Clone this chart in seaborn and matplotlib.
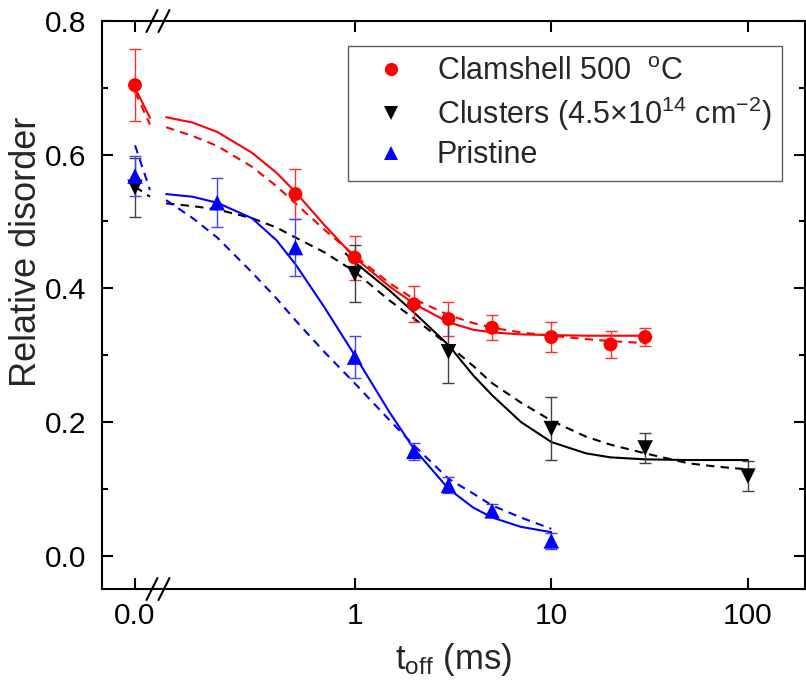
import matplotlib
matplotlib.use("Agg")
import matplotlib.pyplot as plt
from matplotlib.lines import Line2D
from matplotlib.ticker import MultipleLocator, FixedLocator, NullLocator, FormatStrFormatter
import seaborn as sns

# ---------------- measured points: relative disorder vs t_off (ms) ----------------
t_clam = [0, 0.5, 1, 2, 3, 5, 10, 20, 30]
d_clam = [0.704, 0.541, 0.446, 0.376, 0.354, 0.341, 0.327, 0.316, 0.327]
e_clam = [0.054, 0.037, 0.033, 0.027, 0.025, 0.019, 0.022, 0.020, 0.014]

t_clus = [0, 1, 3, 10, 30, 100]
d_clus = [0.551, 0.422, 0.305, 0.190, 0.161, 0.119]
e_clus = [0.044, 0.043, 0.047, 0.047, 0.022, 0.023]

t_pris = [0, 0.2, 0.5, 1, 2, 3, 5, 10]
d_pris = [0.568, 0.528, 0.461, 0.297, 0.156, 0.105, 0.067, 0.022]
e_pris = [0.030, 0.037, 0.042, 0.031, 0.013, 0.012, 0.010, 0.012]

# ---------------- fitted curves ----------------
# short stretch next to t = 0 (linear part of the axis)
t_fit_zero = [0, 0.045]
clam_solid_zero = [0.700, 0.655]
clam_dash_zero = [0.694, 0.645]
clus_dash_zero = [0.552, 0.537]
pris_dash_zero = [0.614, 0.547]

# logarithmic part of the axis
t_fit = [0.11, 0.15, 0.2, 0.3, 0.4, 0.5, 0.7, 1, 1.5, 2, 3, 4, 5, 7, 10,
         15, 20, 30, 50, 70, 100]
clam_solid = [0.656, 0.648, 0.634, 0.603, 0.573, 0.544, 0.495, 0.446, 0.403, 0.377,
              0.349, 0.338, 0.334, 0.331, 0.330, 0.329, 0.329, 0.329]
clam_dash = [0.641, 0.628, 0.613, 0.582, 0.553, 0.527, 0.488, 0.449, 0.408, 0.384,
             0.360, 0.348, 0.341, 0.334, 0.329, 0.324, 0.321, 0.318]
t_clus_solid = [0.9, 1, 1.5, 2, 3, 4, 5, 7, 10, 15, 20, 30, 50, 70, 100]
clus_solid = [0.452, 0.439, 0.397, 0.364, 0.315, 0.270, 0.240, 0.200, 0.170, 0.153,
              0.147, 0.144, 0.143, 0.143, 0.143]
clus_dash = [0.527, 0.523, 0.518, 0.505, 0.491, 0.476, 0.454, 0.425, 0.382, 0.355,
             0.315, 0.284, 0.258, 0.229, 0.202, 0.178, 0.166, 0.153, 0.138, 0.133, 0.129]
pris_solid = [0.541, 0.537, 0.528, 0.505, 0.472, 0.436, 0.372, 0.300, 0.215, 0.160,
              0.100, 0.072, 0.057, 0.043, 0.035]
pris_dash = [0.532, 0.505, 0.476, 0.424, 0.385, 0.352, 0.305, 0.258, 0.203, 0.165,
             0.115, 0.093, 0.075, 0.057, 0.040]

labels = ["Clamshell 500  $^{\\mathrm{o}}$C",
          "Clusters (4.5$\\times$10$^{14}$ cm$^{-2}$)",
          "Pristine"]

RED, BLACK, BLUE = "#ff0000", "#000000", "#0000ff"

sns.set_theme(style="ticks")
plt.rcParams["font.family"] = ["Liberation Sans", "DejaVu Sans"]
plt.rcParams["mathtext.fontset"] = "custom"
plt.rcParams["mathtext.rm"] = "Liberation Sans"
plt.rcParams["mathtext.it"] = "Liberation Sans:italic"
plt.rcParams["mathtext.bf"] = "Liberation Sans:bold"

W, H = 806, 692
fig = plt.figure(figsize=(W / 100, H / 100), dpi=100)


def box(x0, x1, ytop, ybot):
    return [x0 / W, 1 - ybot / H, (x1 - x0) / W, (ybot - ytop) / H]


X_LEFT, X_BREAK, X_RIGHT, Y_TOP, Y_BOT = 102, 158, 805, 21, 589
ax0 = fig.add_axes(box(X_LEFT, X_BREAK, Y_TOP, Y_BOT))
ax1 = fig.add_axes(box(X_BREAK, X_RIGHT, Y_TOP, Y_BOT))

LW = 1.5
DASH = (0, (4, 3))

# ---- fitted curves ----
for x, y, c, ls in [(t_fit_zero, clam_solid_zero, RED, "-"),
                    (t_fit_zero, clam_dash_zero, RED, DASH),
                    (t_fit_zero, clus_dash_zero, BLACK, DASH),
                    (t_fit_zero, pris_dash_zero, BLUE, DASH)]:
    sns.lineplot(x=x, y=y, ax=ax0, color=c, linestyle=ls, linewidth=LW, legend=False)

for x, y, c, ls in [(t_fit[:len(clam_solid)], clam_solid, RED, "-"),
                    (t_fit[:len(clam_dash)], clam_dash, RED, DASH),
                    (t_clus_solid, clus_solid, BLACK, "-"),
                    (t_fit[:len(clus_dash)], clus_dash, BLACK, DASH),
                    (t_fit[:len(pris_solid)], pris_solid, BLUE, "-"),
                    (t_fit[:len(pris_dash)], pris_dash, BLUE, DASH)]:
    sns.lineplot(x=x, y=y, ax=ax1, color=c, linestyle=ls, linewidth=LW, legend=False)

# ---- data points with error bars ----
series = [(t_clam, d_clam, e_clam, RED, "o", 100, "#ff3030"),
          (t_clus, d_clus, e_clus, BLACK, "v", 125, "#404040"),
          (t_pris, d_pris, e_pris, BLUE, "^", 125, "#4444ff")]

for t, d, e, c, m, s, ec in series:
    for ax, keep in [(ax0, lambda v: v == 0), (ax1, lambda v: v > 0)]:
        idx = [i for i, v in enumerate(t) if keep(v)]
        tx = [t[i] for i in idx]
        dy = [d[i] for i in idx]
        ey = [e[i] for i in idx]
        ax.errorbar(tx, dy, yerr=ey, fmt="none", ecolor=ec, elinewidth=1.0,
                    capsize=4.5, capthick=1.0, zorder=3)
        sns.scatterplot(x=tx, y=dy, ax=ax, marker=m, s=s, color=c,
                        edgecolor="none", linewidth=0, legend=False, zorder=4)

# ---- axes ----
TICK_FS = 21.5
for ax in (ax0, ax1):
    ax.set_ylim(-0.05, 0.8)
    ax.set_xlabel("")
    ax.set_ylabel("")
    for sp in ax.spines.values():
        sp.set_linewidth(1.5)
        sp.set_color("black")
    ax.tick_params(which="both", direction="in", width=1.5, colors="black",
                   labelsize=TICK_FS, top=True)
    ax.tick_params(which="major", length=8)
    ax.tick_params(which="minor", length=4.3)
    ax.yaxis.set_major_locator(MultipleLocator(0.2))
    ax.yaxis.set_minor_locator(MultipleLocator(0.1))

ax0.set_xlim(-0.099, 0.069)
ax0.xaxis.set_major_locator(FixedLocator([0]))
ax0.xaxis.set_minor_locator(NullLocator())
ax0.xaxis.set_major_formatter(FormatStrFormatter("%.1f"))
ax0.yaxis.set_major_formatter(FormatStrFormatter("%.1f"))
ax0.spines["right"].set_visible(False)
ax0.tick_params(axis="y", which="both", left=True, right=False, pad=11)
ax0.tick_params(axis="x", pad=9)

ax1.set_xscale("log")
ax1.set_xlim(0.1, 195)
ax1.xaxis.set_major_locator(FixedLocator([1, 10, 100]))
ax1.xaxis.set_minor_locator(NullLocator())
ax1.set_xticklabels(["1", "10", "100"])
ax1.spines["left"].set_visible(False)
ax1.tick_params(axis="y", which="both", left=False, right=True,
                labelleft=False, labelright=False)
ax1.tick_params(axis="x", pad=9)

fig.text((X_LEFT + X_RIGHT) / 2 / W, 1 - 660 / H, "t$_{\\mathrm{off}}$ (ms)",
         ha="center", va="center", fontsize=25)
fig.text(27 / W, 1 - 252 / H, "Relative disorder", rotation=90,
         ha="center", va="center", fontsize=26)

# ---- axis-break marks on the bottom and top spines ----
for yc in (Y_BOT, Y_TOP):
    for xc in (X_BREAK - 6, X_BREAK + 6):
        fig.add_artist(Line2D([(xc - 5.5) / W, (xc + 5.5) / W],
                              [1 - (yc + 11) / H, 1 - (yc - 11) / H],
                              transform=fig.transFigure, color="black", lw=1.5))

# ---- legend ----
handles = [Line2D([], [], ls="none", marker="o", color=RED, markersize=9.5, mew=0),
           Line2D([], [], ls="none", marker="v", color=BLACK, markersize=10, mew=0),
           Line2D([], [], ls="none", marker="^", color=BLUE, markersize=10, mew=0)]
leg = ax1.legend(handles, labels, loc="upper right",
                 bbox_to_anchor=(782 / W, 1 - 46 / H), bbox_transform=fig.transFigure,
                 fontsize=22, frameon=True, fancybox=False, borderaxespad=0,
                 borderpad=0.35, handlelength=2.1, handletextpad=0.45,
                 labelspacing=0.25, numpoints=1)
leg.get_frame().set_edgecolor("#333333")
leg.get_frame().set_linewidth(1.0)

fig.savefig("out.png", dpi=100)
